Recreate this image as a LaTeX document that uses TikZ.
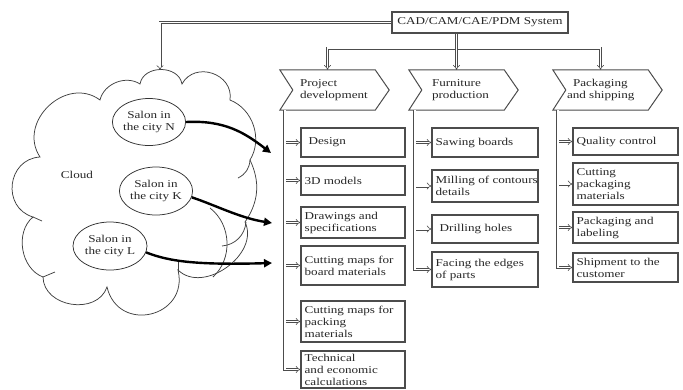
\documentclass[tikz,border=0pt]{standalone}
\usepackage{fontspec}
\setmainfont{Liberation Serif}[FakeStretch=1.25]
\usetikzlibrary{arrows.meta,shapes.geometric}
\newcommand\fs{\fontsize{10.5}{12}\selectfont}
\tikzset{
  every node/.style={font=\fs, text=black!85},
  dbl/.style={draw=black!70, line width=0.6pt, double=white, double distance=1.8pt, -{Implies}},
  boxframe/.style={draw=black!70, line width=1.1pt, rectangle, inner sep=0pt},
  lbl/.style={align=left, inner sep=0pt},
  hdrline/.style={draw=black!70, line width=1pt},
  salon/.style={ellipse, draw=black!80, line width=0.75pt, align=center, inner sep=0pt},
  bigarrow/.style={line width=2.4pt, -{Triangle[length=8pt,width=8pt]}},
  cloudline/.style={draw=black!75, line width=0.75pt},
}
\newcommand\bx[6]{%
  \node[boxframe, minimum width={(#4-#2)*1pt}, minimum height={(#5-#3)*1pt}] (#1) at ({(#2+#4)/2},{(#3+#5)/2}) {};
  \node[lbl, anchor=west] (#1t) at ([xshift=4pt]#1.west) {#6};}
\newcommand\hdr[5]{%
  \node[minimum width={(#3-#2)*1pt}, minimum height=40pt, inner sep=0pt] (#1) at ({(#2+#3)/2},90) {};
  \draw[hdrline] (#1.north west) -- (#1.north east) -- ([xshift=14pt]#1.east) -- (#1.south east) -- (#1.south west) -- ([xshift=13pt]#1.west) -- cycle;
  \node[lbl, anchor=west] (#1t) at ([xshift=#5]#1.west) {#4};}
\begin{document}
\begin{tikzpicture}[x=1pt,y=-1pt]
\useasboundingbox (0,0) rectangle (683,389);

% cloud
\draw[cloudline] (40,157) to[bend left=80, looseness=1.3] (100,100)
  to[bend left=55] (140,84)
  to[bend left=80, looseness=1.2] (182,84)
  to[bend left=80, looseness=1.35] (230,100)
  to[bend left=50] (250,160)
  to[bend left=30] (245,222)
  to[bend left=80, looseness=1.1] (178,270)
  to[bend left=90, looseness=1.7] (107,287)
  to[bend left=80, looseness=1.2] (43,277)
  to[bend left=60] (33,217)
  to[bend left=80, looseness=1.4] cycle;
\draw[cloudline] (250,160) to[bend left=30] (238,178);
\draw[cloudline] (210,208) to[bend left=50] (213,277);
\draw[cloudline] (222,246) to[bend right=40] (246,222);
\draw[cloudline] (33,217) -- (42,221);
\draw[cloudline] (43,277) -- (55,272);
\draw[cloudline] (178,270) -- (178,262);
\node (cloudtxt) at (77,175) {Cloud};

% salons
\node[salon, minimum width=72pt, minimum height=47pt] (sn) at (149,122) {Salon in\\the city N};
\node[salon, minimum width=72pt, minimum height=48pt] (sk) at (156,191) {Salon in\\the city K};
\node[salon, minimum width=74pt, minimum height=48pt] (sl) at (110,246) {Salon in\\the city L};

\coordinate (aN) at (271,153);
\coordinate (aK) at (272,223);
\coordinate (aL) at (272,263);
\draw[bigarrow] (sn.east) .. controls (225,120) and (245,133) .. (aN);
\draw[bigarrow] (sk.-10) .. controls (215,205) and (240,218) .. (aK);
\draw[bigarrow] (sl.-10) .. controls (170,262) and (200,265) .. (aL);

% top system box
\node[boxframe, minimum width=176pt, minimum height=21pt] (cad) at (480,22.5) {CAD/CAM/CAE/PDM System};

% headers
\hdr{ph}{280}{375}{Project\\development}{20pt}
\hdr{fh}{409}{504}{Furniture\\production}{23pt}
\hdr{kh}{553}{648}{\hspace*{6pt}Packaging\\and shipping}{14pt}

% top connectors
\coordinate (ctop) at (160,70);
\coordinate (hb) at (0,48);
\draw[dbl] (cad.west) -| (ctop);
\draw[dbl, Implies-Implies] (ph.north) -- (ph.north |- hb) -| (kh.north);
\draw[dbl] (cad.south -| fh.north) -- (fh.north);

% project development boxes
\bx{des}{301}{128}{405}{157}{\hspace*{4pt}Design}
\bx{d3}{301}{166}{405}{195}{3D models}
\bx{drw}{301}{207}{405}{238}{Drawings and\\specifications}
\bx{cmb}{301}{246}{405}{285}{Cutting maps for\\board materials}
\bx{cmp}{301}{301}{405}{342}{Cutting maps for\\packing\\materials}
\bx{tec}{301}{351}{405}{388}{Technical\\and economic\\calculations}

% furniture boxes
\bx{saw}{432}{128}{538}{157}{Sawing boards}
\bx{mil}{432}{170}{538}{202}{Milling of contours\\details}
\bx{dri}{432}{215}{538}{243}{\hspace*{4pt}Drilling holes}
\bx{fac}{432}{252}{538}{287}{Facing the edges\\of parts}

% packaging boxes
\bx{qc}{573}{128}{678}{155}{Quality control}
\bx{cpm}{573}{163}{678}{205}{Cutting\\packaging\\materials}
\bx{pal}{573}{212}{678}{243}{Packaging and\\labeling}
\bx{shp}{573}{253}{678}{282}{Shipment to the\\customer}

% buses
\coordinate (pbus) at ([xshift=5pt]ph.south west);
\coordinate (fbus) at ([xshift=6pt]fh.south west);
\coordinate (kbus) at ([xshift=5pt]kh.south west);
\foreach \b in {des,d3,drw,cmb,cmp} \draw[dbl] (\b.west -| pbus) -- (\b.west);
\foreach \b in {saw,mil,dri} \draw[dbl] (\b.west -| fbus) -- (\b.west);
\foreach \b in {qc,cpm,pal} \draw[dbl] (\b.west -| kbus) -- (\b.west);
\draw[dbl] (pbus) |- (tec.west);
\draw[dbl] (fbus) |- (fac.west);
\draw[dbl] (kbus) |- (shp.west);
\end{tikzpicture}
\end{document}
